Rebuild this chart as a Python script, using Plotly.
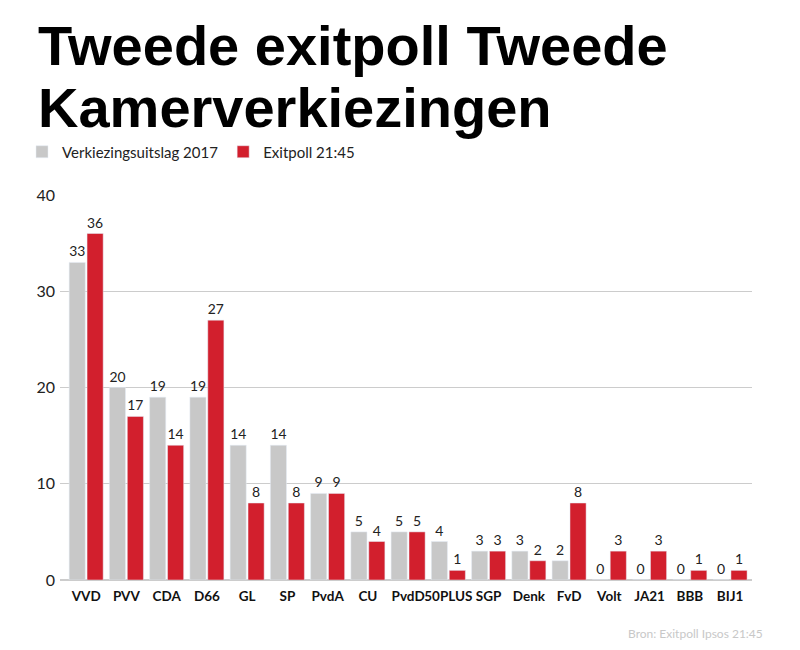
import plotly.graph_objects as go

parties = ["VVD", "PVV", "CDA", "D66", "GL", "SP", "PvdA", "CU", "PvdD", "50PLUS",
           "SGP", "Denk", "FvD", "Volt", "JA21", "BBB", "BIJ1"]
uitslag_2017 = [33, 20, 19, 19, 14, 14, 9, 5, 5, 4, 3, 3, 2, 0, 0, 0, 0]
exitpoll = [36, 17, 14, 27, 8, 8, 9, 4, 5, 1, 3, 2, 8, 3, 3, 1, 1]
y_ticks = [0, 10, 20, 30, 40]

FONT = "Lato, Open Sans, sans-serif"

fig = go.Figure()
fig.add_trace(go.Bar(
    x=parties, y=uitslag_2017, name="Verkiezingsuitslag 2017",
    marker_color="#c8c8c8", text=uitslag_2017, textposition="outside",
    textfont=dict(size=14, color="#222222", family=FONT), cliponaxis=False,
))
fig.add_trace(go.Bar(
    x=parties, y=exitpoll, name="Exitpoll 21:45",
    marker_color="#d21f2d", text=exitpoll, textposition="outside",
    textfont=dict(size=14, color="#222222", family=FONT), cliponaxis=False,
))

fig.update_layout(
    width=800, height=650,
    paper_bgcolor="white", plot_bgcolor="white",
    barmode="group", bargap=0.11, bargroupgap=0.1,
    margin=dict(l=52, r=56, t=187, b=78),
    font=dict(family=FONT, color="#222222"),
    showlegend=True,
    legend=dict(orientation="h", x=0.0175, y=0.7785, xref="container", yref="container",
                xanchor="left", yanchor="middle", font=dict(size=15, color="#222222"),
                traceorder="normal", bgcolor="rgba(0,0,0,0)"),
)

fig.update_xaxes(range=[-0.65, 16.545], showgrid=False, showline=False, ticks="",
                 tickangle=0, ticklabelstandoff=6,
                 tickfont=dict(size=13.5, color="#111111", family=FONT),
                 tickprefix="<b>", ticksuffix="</b>")
fig.update_yaxes(range=[0, 40], tickvals=y_ticks, showgrid=True, gridcolor="#cccccc",
                 gridwidth=1, zeroline=True, zerolinecolor="#cccccc", showline=False,
                 tickfont=dict(size=16, color="#222222"), ticks="", ticklabelstandoff=4)

fig.add_annotation(text="<b>Tweede exitpoll Tweede</b>",
                   xref="paper", yref="paper", x=-0.035, y=1.0, yshift=150,
                   xanchor="left", yanchor="middle", align="left", showarrow=False,
                   font=dict(size=56, family="Liberation Sans, Arial", color="#000000"))
fig.add_annotation(text="<b>Kamerverkiezingen</b>",
                   xref="paper", yref="paper", x=-0.035, y=1.0, yshift=88,
                   xanchor="left", yanchor="middle", align="left", showarrow=False,
                   font=dict(size=56, family="Liberation Sans, Arial", color="#000000"))
fig.add_annotation(text="Bron: Exitpoll Ipsos 21:45", xref="paper", yref="paper",
                   x=1.0188, y=0, yshift=-53, xanchor="right", yanchor="middle",
                   showarrow=False, font=dict(size=12, color="#c8c8c8"))

fig.write_html("out.html")
